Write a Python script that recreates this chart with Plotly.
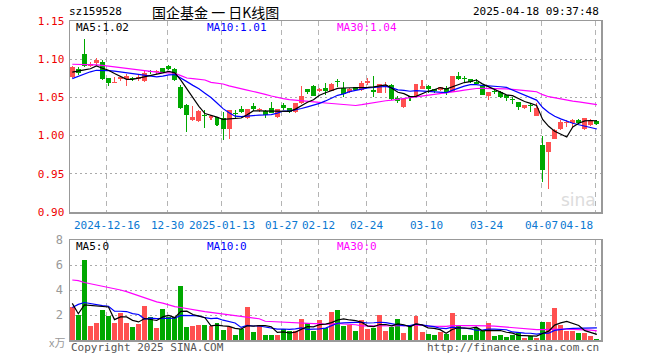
import plotly.graph_objects as go
import pandas as pd

# ---------------- data ----------------
holidays = ["2025-01-01", "2025-01-28", "2025-01-29", "2025-01-30", "2025-01-31",
            "2025-02-03", "2025-02-04", "2025-04-04"]
dates = [d.strftime("%Y-%m-%d") for d in pd.bdate_range("2024-12-06", "2025-04-18")
         if d.strftime("%Y-%m-%d") not in holidays]

opens = [1.0771, 1.0872, 1.1070, 1.0915, 1.0950, 1.0968, 1.0758, 1.0695, 1.0737, 1.0735,
         1.0756, 1.0745, 1.0718, 1.0840, 1.0832, 1.0879, 1.0905, 1.0872, 1.0640, 1.0400,
         1.0201, 1.0192, 1.0267, 1.0229, 1.0237, 1.0224, 1.0092, 1.0297, 1.0346, 1.0224,
         1.0386, 1.0333, 1.0316, 1.0359, 1.0237, 1.0399, 1.0355, 1.0311, 1.0429, 1.0609,
         1.0649, 1.0579, 1.0626, 1.0587, 1.0705, 1.0626, 1.0570, 1.0632, 1.0596, 1.0692,
         1.0596, 1.0561, 1.0655, 1.0662, 1.0487, 1.0368, 1.0517, 1.0521, 1.0609, 1.0649,
         1.0605, 1.0596, 1.0618, 1.0574, 1.0780, 1.0745, 1.0737, 1.0705, 1.0658, 1.0517,
         1.0578, 1.0574, 1.0530, 1.0478, 1.0442, 1.0355, 1.0390, 1.0258, 0.9872, 0.9784,
         0.9955, 1.0083, 1.0166, 1.0166, 1.0210, 1.0092, 1.0136, 1.0192]
highs = [1.0910, 1.0900, 1.1267, 1.0960, 1.1010, 1.0990, 1.0760, 1.0771, 1.0780, 1.0800,
         1.0770, 1.0790, 1.0859, 1.0865, 1.0865, 1.0890, 1.0920, 1.0880, 1.0660, 1.0420,
         1.0386, 1.0330, 1.0333, 1.0270, 1.0250, 1.0311, 1.0340, 1.0333, 1.0386, 1.0350,
         1.0429, 1.0360, 1.0333, 1.0442, 1.0350, 1.0429, 1.0360, 1.0430, 1.0649, 1.0615,
         1.0660, 1.0620, 1.0684, 1.0690, 1.0737, 1.0705, 1.0625, 1.0640, 1.0718, 1.0758,
         1.0780, 1.0680, 1.0705, 1.0670, 1.0517, 1.0480, 1.0520, 1.0680, 1.0728, 1.0662,
         1.0610, 1.0640, 1.0649, 1.0785, 1.0833, 1.0780, 1.0745, 1.0737, 1.0662, 1.0574,
         1.0605, 1.0580, 1.0535, 1.0500, 1.0445, 1.0405, 1.0421, 1.0421, 0.9991, 0.9916,
         1.0092, 1.0201, 1.0201, 1.0215, 1.0215, 1.0230, 1.0215, 1.0200]
lows = [1.0750, 1.0790, 1.0900, 1.0900, 1.0930, 1.0730, 1.0645, 1.0688, 1.0720, 1.0653,
        1.0720, 1.0720, 1.0705, 1.0810, 1.0810, 1.0830, 1.0860, 1.0720, 1.0350, 1.0047,
        1.0192, 1.0180, 1.0105, 1.0210, 1.0120, 0.9938, 0.9960, 1.0220, 1.0302, 1.0220,
        1.0320, 1.0310, 1.0224, 1.0290, 1.0230, 1.0333, 1.0300, 1.0300, 1.0420, 1.0540,
        1.0515, 1.0570, 1.0530, 1.0580, 1.0640, 1.0508, 1.0560, 1.0590, 1.0590, 1.0662,
        1.0508, 1.0555, 1.0561, 1.0470, 1.0429, 1.0360, 1.0456, 1.0515, 1.0605, 1.0553,
        1.0553, 1.0590, 1.0530, 1.0570, 1.0728, 1.0705, 1.0690, 1.0662, 1.0525, 1.0465,
        1.0540, 1.0487, 1.0455, 1.0412, 1.0333, 1.0350, 1.0310, 1.0255, 0.9389, 0.9302,
        0.9950, 1.0070, 1.0113, 1.0113, 1.0160, 1.0079, 1.0130, 1.0140]
closes = [1.0895, 1.0824, 1.0916, 1.0940, 1.0990, 1.0741, 1.0692, 1.0700, 1.0771, 1.0780,
          1.0735, 1.0770, 1.0824, 1.0833, 1.0840, 1.0837, 1.0868, 1.0728, 1.0363, 1.0267,
          1.0245, 1.0316, 1.0253, 1.0259, 1.0136, 1.0092, 1.0333, 1.0280, 1.0311, 1.0346,
          1.0342, 1.0338, 1.0267, 1.0297, 1.0342, 1.0363, 1.0311, 1.0421, 1.0517, 1.0570,
          1.0521, 1.0609, 1.0587, 1.0675, 1.0700, 1.0543, 1.0613, 1.0596, 1.0692, 1.0714,
          1.0570, 1.0675, 1.0662, 1.0478, 1.0451, 1.0478, 1.0487, 1.0675, 1.0649, 1.0609,
          1.0579, 1.0632, 1.0574, 1.0780, 1.0745, 1.0740, 1.0697, 1.0675, 1.0530, 1.0570,
          1.0574, 1.0508, 1.0487, 1.0472, 1.0368, 1.0399, 1.0384, 1.0355, 0.9553, 0.9916,
          1.0079, 1.0179, 1.0179, 1.0210, 1.0166, 1.0224, 1.0210, 1.0149]
volumes = [2.67, 2.00, 6.40, 1.12, 1.36, 2.40, 1.92, 1.36, 2.19, 1.36,
           1.04, 1.28, 2.72, 1.81, 0.96, 2.48, 1.87, 1.81, 4.35, 1.04,
           1.12, 1.20, 1.20, 1.12, 1.33, 0.80, 1.01, 0.40, 0.85, 2.64,
           0.67, 1.20, 0.40, 0.40, 0.40, 0.85, 0.75, 0.75, 1.68, 1.36,
           0.75, 1.60, 0.99, 2.27, 2.40, 1.15, 1.20, 0.75, 1.60, 0.88,
           0.96, 2.00, 0.75, 1.07, 1.68, 0.59, 1.20, 1.92, 0.67, 0.48,
           0.40, 0.67, 0.45, 2.19, 1.20, 0.40, 0.40, 0.93, 0.75, 1.39,
           0.32, 0.40, 0.24, 0.40, 0.53, 0.16, 0.29, 0.16, 1.47, 1.47,
           2.56, 1.20, 0.75, 0.75, 0.53, 0.53, 0.32, 0.10]

# moving-average values before enough in-window history exists
ma5_head = [1.083, 1.084, 1.086, 1.0875]
ma10_head = [1.0745, 1.0775, 1.081, 1.0835, 1.0855, 1.0855, 1.085, 1.0845, 1.0835]
ma30_head = [1.0934, 1.0934, 1.0934, 1.093, 1.0925, 1.092, 1.091, 1.0895, 1.089, 1.088,
             1.087, 1.086, 1.085, 1.0837, 1.083, 1.0825, 1.082, 1.0816, 1.0785, 1.0754,
             1.0745, 1.0735, 1.0728, 1.0697, 1.069, 1.0675, 1.065, 1.0635, 1.062]
vma5_head = [2.93, 2.10, 2.80, 2.75]
vma10_head = [2.60, 2.85, 3.00, 2.90, 2.80, 2.75, 2.70, 2.30, 2.30]
vma30_head = [4.80, 4.75, 4.60, 4.50, 4.45, 4.35, 4.20, 4.10, 4.00, 3.87,
              3.70, 3.50, 3.33, 3.20, 3.05, 2.95, 2.80, 2.67, 2.60, 2.50,
              2.40, 2.35, 2.27, 2.20, 2.15, 2.08, 2.00, 1.95, 1.87]

date_ticks = ["2024-12-16", "2024-12-30", "2025-01-13", "2025-01-27", "2025-02-12",
              "2025-02-24", "2025-03-10", "2025-03-24", "2025-04-07", "2025-04-18"]
date_labels = ["2024-12-16", "12-30", "2025-01-13", "01-27", "02-12",
               "02-24", "03-10", "03-24", "04-07", "04-18"]
price_ticks = [0.90, 0.95, 1.00, 1.05, 1.10, 1.15]
vol_ticks = [2, 4, 6, 8]

code = "sz159528"
title = "国企基金 一 日K线图"
stamp = "2025-04-18 09:37:48"

# ---------------- helpers ----------------
UP, DOWN = "#ff5050", "#00a800"
MONO = "DejaVu Sans Mono"
W, H = 660, 360
PL, PR = 70, 601             # panel edges in pixels
PT, PB = 21, 212
VT, VB = 240, 340


def fx(x):
    return x / W


def fy(y):
    return 1 - y / H


def ma(values, n, head):
    s = pd.Series(values, dtype=float).rolling(n).mean()
    s.iloc[:n - 1] = head
    return s


n = len(dates)
xs = list(range(n))
cols = [UP if c >= o else DOWN for o, c in zip(opens, closes)]
body_base = [min(o, c) for o, c in zip(opens, closes)]
body_h = [max(abs(c - o), 0.0012) for o, c in zip(opens, closes)]
wick_h = [h - l for h, l in zip(highs, lows)]

ma5 = ma(closes, 5, ma5_head)
ma10 = ma(closes, 10, ma10_head)
ma30 = ma(closes, 30, ma30_head)
vma5 = ma(volumes, 5, vma5_head)
vma10 = ma(volumes, 10, vma10_head)
vma30 = ma(volumes, 30, vma30_head)

fig = go.Figure()
fig.add_trace(go.Bar(x=xs, y=wick_h, base=lows, width=0.18, marker_color=cols,
                     marker_line_width=0, xaxis="x", yaxis="y", hoverinfo="skip"))
fig.add_trace(go.Bar(x=xs, y=body_h, base=body_base, width=0.82, marker_color=cols,
                     marker_line_width=0, xaxis="x", yaxis="y"))
for s, c in [(ma30, "#ff00ff"), (ma10, "#0000ff"), (ma5, "#000000")]:
    fig.add_trace(go.Scatter(x=xs, y=s, mode="lines", line=dict(color=c, width=1.2),
                             xaxis="x", yaxis="y"))

fig.add_trace(go.Bar(x=xs, y=volumes, width=0.82, marker_color=cols, marker_line_width=0,
                     xaxis="x2", yaxis="y2"))
for s, c in [(vma30, "#ff00ff"), (vma10, "#0000ff"), (vma5, "#000000")]:
    fig.add_trace(go.Scatter(x=xs, y=s, mode="lines", line=dict(color=c, width=1.2),
                             xaxis="x2", yaxis="y2"))

tick_idx = [dates.index(d) for d in date_ticks]
grid_x = [i - 0.25 for i in tick_idx]
xr = [-0.38, n - 1 + 0.68]

axis_common = dict(showline=True, mirror=True, linecolor="#999999", linewidth=1.5,
                   zeroline=False, ticks="", automargin=False)
fig.update_layout(
    width=W, height=H, margin=dict(l=0, r=0, t=0, b=0, pad=0), autosize=False,
    paper_bgcolor="white", plot_bgcolor="white", showlegend=False,
    barmode="overlay", bargap=0,
    xaxis=dict(domain=[fx(PL), fx(PR)], range=xr, anchor="y", tickvals=grid_x,
               showticklabels=False, showgrid=True, gridcolor="#b4b4b4",
               griddash="5px,4px", gridwidth=1, **axis_common),
    xaxis2=dict(domain=[fx(PL), fx(PR)], range=xr, anchor="y2", tickvals=grid_x,
                showticklabels=False, showgrid=True, gridcolor="#b4b4b4",
                griddash="5px,4px", gridwidth=1, **axis_common),
    yaxis=dict(domain=[fy(PB), fy(PT)], range=[0.90, 1.15], anchor="x",
               tickvals=price_ticks, ticktext=[f"{v:.2f}" for v in price_ticks],
               tickfont=dict(family=MONO, size=11, color="#ee0000"),
               showgrid=True, gridcolor="#aaaaaa", griddash="2px,3px",
               ticklabelstandoff=2, **axis_common),
    yaxis2=dict(domain=[fy(VB), fy(VT)], range=[0, 8], anchor="x2",
                tickvals=vol_ticks, ticktext=[str(v) for v in vol_ticks],
                tickfont=dict(family=MONO, size=12, color="#999999"),
                showgrid=True, gridcolor="#aaaaaa", griddash="2px,3px",
                ticklabelstandoff=3, **axis_common),
)


def txt(s, x, y, color="#000000", size=10, anchor="left", family=MONO):
    fig.add_annotation(text=s, x=fx(x), y=fy(y), xref="paper", yref="paper",
                       xanchor=anchor, yanchor="middle", showarrow=False,
                       font=dict(family=family, size=size, color=color))


txt(code, 67, 12, size=11)
txt(title, 150, 12, size=14, family="Noto Sans CJK SC")
txt(stamp, 601, 12, size=11, anchor="right")

txt(f"MA5:{ma5.iloc[-1]:.2f}", 74, 28, "#000000", 11)
txt(f"MA10:{ma10.iloc[-1]:.2f}", 205, 28, "#0000ff", 11)
txt(f"MA30:{ma30.iloc[-1]:.2f}", 335, 28, "#ff00ff", 11)

txt(f"MA5:{int(vma5.iloc[-1])}", 74, 246, "#000000", 11)
txt(f"MA10:{int(vma10.iloc[-1])}", 205, 246, "#0000ff", 11)
txt(f"MA30:{int(vma30.iloc[-1])}", 335, 246, "#ff00ff", 11)

txt("x万", 67, 342, "#999999", 11, anchor="right", family="Noto Sans CJK SC")
txt("Copyright 2025 SINA.COM", 69, 347, "#555555", 11)
txt("http://finance.sina.com.cn", 601, 347, "#555555", 11, anchor="right")

# date labels under price panel
for k, (i, lab) in enumerate(zip(grid_x, date_labels)):
    last = k == len(date_labels) - 1
    fig.add_annotation(text=lab, x=i, y=fy(225), xref="x", yref="paper",
                       xanchor="right" if last else "center", yanchor="middle",
                       showarrow=False,
                       font=dict(family=MONO, size=11, color="#0a78d2"))

# faint sina watermark
txt("sina", 598, 200, "#dcdcdc", 17, anchor="right", family="DejaVu Sans")

# remove the browser's default page margin so the figure sits at the window origin
fig.write_html("out.html",
               config={"displayModeBar": False, "staticPlot": True},
               post_script="document.body.style.margin='0';"
                           "document.body.style.overflow='hidden';")
